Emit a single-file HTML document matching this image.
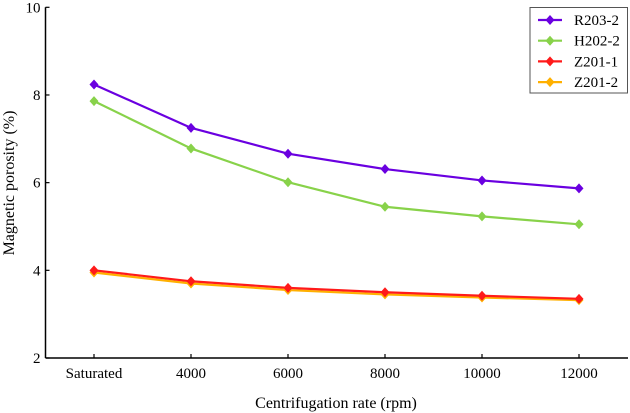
<!DOCTYPE html>
<html><head><meta charset="utf-8"><style>
html,body{margin:0;padding:0;background:#fff;}
svg{display:block;font-family:"Liberation Serif",serif;}
</style></head><body>
<svg id="chart" width="630" height="413" viewBox="0 0 630 413" xmlns="http://www.w3.org/2000/svg"></svg>
<script>
const categories = ["Saturated","4000","6000","8000","10000","12000"];
const yTicks = [2,4,6,8,10];
const seriesNames = ["R203-2","H202-2","Z201-1","Z201-2"];
const seriesColors = ["#6a00e0","#88d24a","#ff1a1a","#ffb000"];
const r203 = [8.24,7.25,6.66,6.31,6.05,5.87];
const h202 = [7.86,6.78,6.01,5.45,5.23,5.05];
const z2011 = [4.0,3.75,3.6,3.5,3.42,3.35];
const z2012 = [3.95,3.7,3.55,3.45,3.38,3.32];
const allSeries = [r203,h202,z2011,z2012];

const NS="http://www.w3.org/2000/svg";
const svg=document.getElementById('chart');
const X0=45.5, X1=628, Y0=358, Y1=7.3;
function xs(i){return 94+i*97;}
function ys(v){return Y0-(v-2)/8*(Y0-Y1);}
function mk(t,a,p){const e=document.createElementNS(NS,t);for(const k in a)e.setAttribute(k,a[k]);(p||svg).appendChild(e);return e;}

let ax=mk('line',{x1:X0,y1:Y1,x2:X0,y2:Y0,stroke:'#000','stroke-width':1.5});


let bx=mk('line',{x1:X0,y1:Y0,x2:X1,y2:Y0,stroke:'#000','stroke-width':1.5});



yTicks.forEach(v=>{
  const y=ys(v);
  const t=mk('line',{x1:X0,y1:y,x2:X0+4,y2:y,stroke:'#000','stroke-width':1.2});
  
  
  const l=mk('text',{x:X0-5,y:y+5,'text-anchor':'end','font-size':15});
  
  
  l.textContent=v;
});
categories.forEach((c,i)=>{
  const x=xs(i);
  const t=mk('line',{x1:x,y1:Y0,x2:x,y2:Y0-4,stroke:'#000','stroke-width':1.2});
  
  
  const l=mk('text',{x:x,y:378,'text-anchor':'middle','font-size':15});
  
  
  l.textContent=c;
});
let xt=mk('text',{x:336,y:408,'text-anchor':'middle','font-size':16});


xt.textContent='Centrifugation rate (rpm)';
let yt=mk('text',{x:0,y:0,'text-anchor':'middle','font-size':16,transform:'translate(14,183) rotate(-90)'});


yt.textContent='Magnetic porosity (%)';

function diamond(x,y,c,p){
  const d=mk('polygon',{points:`${x},${y-5} ${x+4.5},${y} ${x},${y+5} ${x-4.5},${y}`,fill:c},p);
  
  
}
for(let s=allSeries.length-1;s>=0;s--){
  const g=mk('g',{});
  
  
  const pts=allSeries[s].map((v,i)=>xs(i)+','+ys(v)).join(' ');
  const pl=mk('polyline',{points:pts,fill:'none',stroke:seriesColors[s],'stroke-width':2.2},g);
  
  
  allSeries[s].forEach((v,i)=>diamond(xs(i),ys(v),seriesColors[s],g));
}

const lg=mk('g',{});


const lb=mk('rect',{x:530,y:7.5,width:97.5,height:85.5,fill:'#fff',stroke:'#555','stroke-width':1},lg);


seriesNames.forEach((n,i)=>{
  const y=20+i*20.7;
  const e=mk('g',{},lg);
  
  
  mk('line',{x1:538,y1:y,x2:562,y2:y,stroke:seriesColors[i],'stroke-width':2.2},e);
  diamond(550,y,seriesColors[i],e);
  const t=mk('text',{x:574,y:y+5,'font-size':15},e);
  
  
  t.textContent=n;
});
</script>
</body></html>
